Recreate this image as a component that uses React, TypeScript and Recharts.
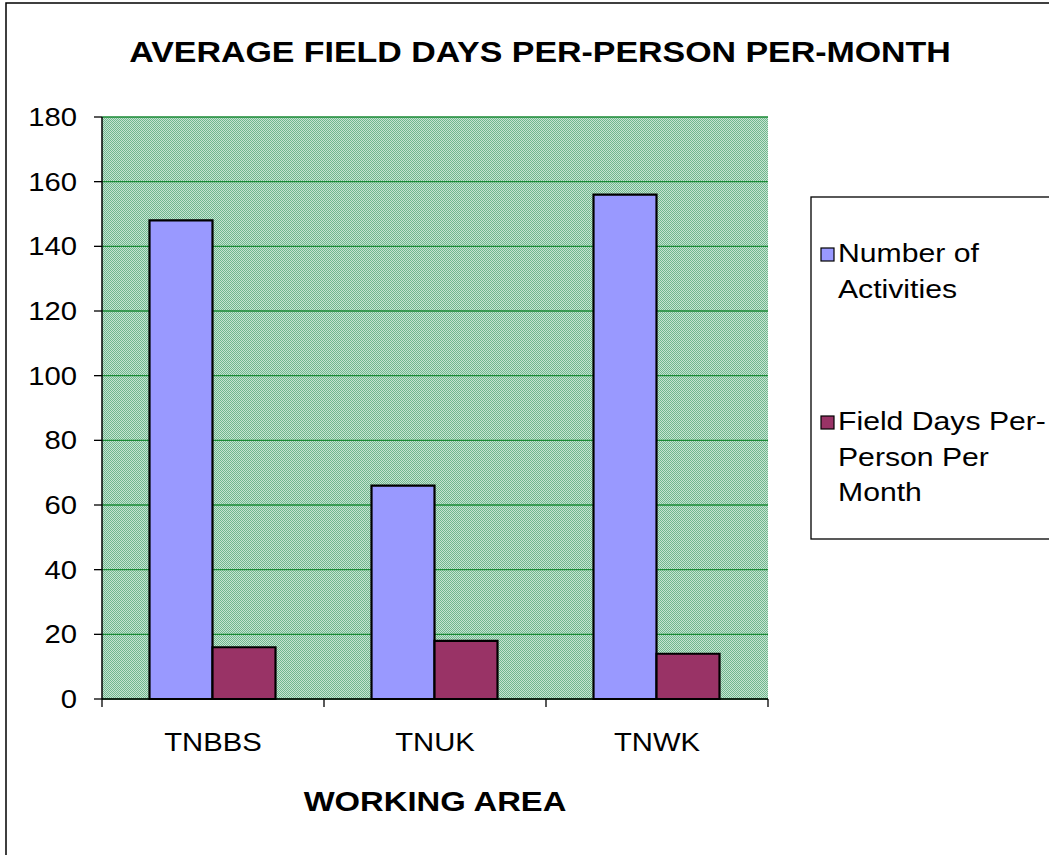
import React from 'react';
import { BarChart, Bar, XAxis, YAxis, CartesianGrid } from 'recharts';

const categories = ['TNBBS', 'TNUK', 'TNWK'];
const numberOfActivities = [148, 66, 156];
const fieldDaysPerPersonPerMonth = [16, 18, 14];
const yTicks = [0, 20, 40, 60, 80, 100, 120, 140, 160, 180];
const seriesLabels = [['Number of', 'Activities'], ['Field Days Per-', 'Person Per', 'Month']];
const seriesColors = ['#9999FF', '#993366'];
const chartTitle = 'AVERAGE FIELD DAYS PER-PERSON PER-MONTH';
const xAxisTitle = 'WORKING AREA';

const data = categories.map((c, i) => ({
  name: c,
  activities: numberOfActivities[i],
  fieldDays: fieldDaysPerPersonPerMonth[i],
}));

const W = 1049;
const H = 855;
const M = { top: 117, right: 281, bottom: 96, left: 0 };
const Y_AXIS_W = 102;
const X_AXIS_H = 60;
const PLOT_LEFT = M.left + Y_AXIS_W;
const PLOT_RIGHT = W - M.right;
const PLOT_BOTTOM = H - M.bottom - X_AXIS_H;
const BAND = (PLOT_RIGHT - PLOT_LEFT) / categories.length;
const FONT = '"Liberation Sans", Arial, sans-serif';
const SX = 1.17;

const SText = (props: any) => {
  const { x, y, anchor = 'start', size, bold, children, dy } = props;
  return (
    <text
      transform={`translate(${x},${y}) scale(${SX},1)`}
      x={0}
      y={0}
      dy={dy}
      textAnchor={anchor}
      fontSize={size}
      fontWeight={bold ? 'bold' : 'normal'}
      fontFamily={FONT}
      fill="#000"
    >
      {children}
    </text>
  );
};

const XTick = (props: any) => {
  const { x, payload, index } = props;
  return (
    <g>
      <line x1={x - BAND / 2} x2={x - BAND / 2} y1={PLOT_BOTTOM} y2={PLOT_BOTTOM + 8} stroke="#000" strokeWidth={1.3} />
      {index === categories.length - 1 && (
        <line x1={x + BAND / 2} x2={x + BAND / 2} y1={PLOT_BOTTOM} y2={PLOT_BOTTOM + 8} stroke="#000" strokeWidth={1.3} />
      )}
      <SText x={x} y={PLOT_BOTTOM + 52} anchor="middle" size={25}>
        {payload.value}
      </SText>
    </g>
  );
};

const YTick = (props: any) => {
  const { x, y, payload } = props;
  return (
    <SText x={x} y={y} anchor="end" size={25} dy="0.355em">
      {payload.value}
    </SText>
  );
};

export default function App() {
  return (
    <div style={{ position: 'absolute', left: 0, top: 0, width: W, height: H, overflow: 'hidden', background: '#fff' }}>
      <BarChart
        width={W}
        height={H}
        data={data}
        margin={M}
        barCategoryGap="21.4%"
        barGap={0}
      >
        <defs>
          <pattern id="dither" width="2" height="2" patternUnits="userSpaceOnUse">
            <rect x="0" y="0" width="2" height="2" fill="#c6e4d1" />
            <rect x="0" y="0" width="1" height="1" fill="#70b78f" />
            <rect x="1" y="1" width="1" height="1" fill="#70b78f" />
          </pattern>
        </defs>
        <CartesianGrid vertical={false} stroke="#1a8a35" strokeWidth={1.3} fill="url(#dither)" fillOpacity={1} />
        <XAxis
          dataKey="name"
          height={X_AXIS_H}
          axisLine={{ stroke: '#000', strokeWidth: 1.5 }}
          tickLine={false}
          tick={<XTick />}
          interval={0}
        />
        <YAxis
          width={Y_AXIS_W}
          domain={[0, 180]}
          ticks={yTicks}
          interval={0}
          axisLine={{ stroke: '#000', strokeWidth: 1.5 }}
          tickLine={{ stroke: '#000', strokeWidth: 1.3 }}
          tickSize={8}
          tickMargin={17}
          tick={<YTick />}
        />
        <Bar dataKey="activities" fill={seriesColors[0]} stroke="#000" strokeWidth={2.2} isAnimationActive={false} />
        <Bar dataKey="fieldDays" fill={seriesColors[1]} stroke="#000" strokeWidth={2.2} isAnimationActive={false} />
      </BarChart>
      <svg width={W} height={H} style={{ position: 'absolute', left: 0, top: 0, pointerEvents: 'none' }}>
        <rect x={6} y={3} width={W + 50} height={H + 50} fill="none" stroke="#000" strokeWidth={1.5} />
        <SText x={540} y={62} anchor="middle" size={29} bold>
          {chartTitle}
        </SText>
        <SText x={(PLOT_LEFT + PLOT_RIGHT) / 2} y={811} anchor="middle" size={28} bold>
          {xAxisTitle}
        </SText>
        <g transform="translate(811,197)">
          <rect x={0} y={0} width={300} height={342} fill="#fff" stroke="#000" strokeWidth={1.3} />
          {seriesLabels.map((lines, i) => {
            const top = i === 0 ? 51 : 219;
            return (
              <g key={i}>
                <rect x={10} y={top} width={13} height={13} fill={seriesColors[i]} stroke="#000" strokeWidth={1.2} />
                {lines.map((l, j) => (
                  <SText key={j} x={27} y={top + 14 + j * 35.5} size={25.8}>
                    {l}
                  </SText>
                ))}
              </g>
            );
          })}
        </g>
      </svg>
    </div>
  );
}
